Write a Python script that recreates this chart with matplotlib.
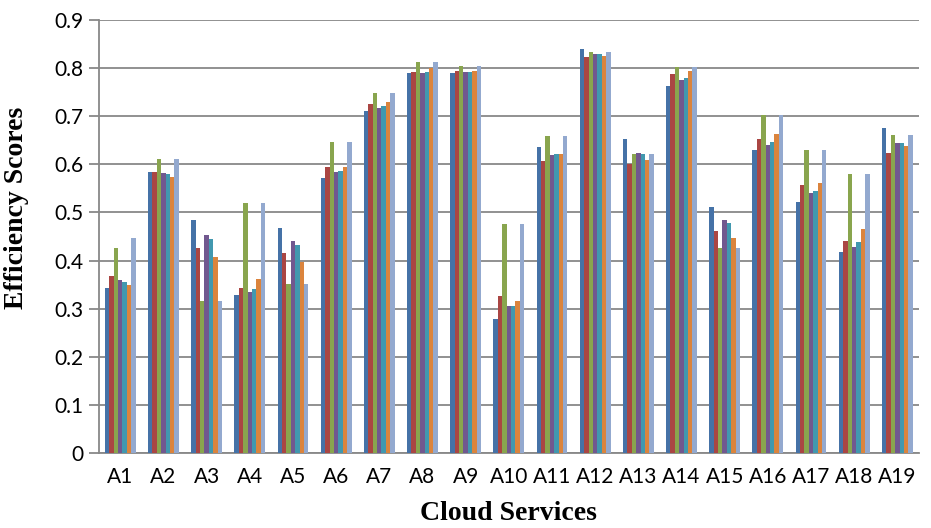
import numpy as np
import matplotlib.pyplot as plt

services = ['A%d' % i for i in range(1, 20)]

s1 = [0.344, 0.585, 0.484, 0.328, 0.467, 0.572, 0.711, 0.789, 0.791, 0.278,
      0.636, 0.839, 0.653, 0.763, 0.511, 0.629, 0.522, 0.418, 0.675]
s2 = [0.368, 0.585, 0.426, 0.343, 0.415, 0.594, 0.725, 0.792, 0.794, 0.327,
      0.608, 0.823, 0.601, 0.787, 0.461, 0.653, 0.557, 0.441, 0.623]
s3 = [0.427, 0.611, 0.317, 0.520, 0.351, 0.646, 0.749, 0.812, 0.805, 0.476,
      0.659, 0.834, 0.622, 0.803, 0.427, 0.702, 0.629, 0.579, 0.662]
s4 = [0.360, 0.583, 0.454, 0.335, 0.440, 0.585, 0.718, 0.790, 0.792, 0.306,
      0.620, 0.829, 0.623, 0.775, 0.484, 0.641, 0.541, 0.429, 0.644]
s5 = [0.355, 0.581, 0.444, 0.341, 0.432, 0.586, 0.721, 0.793, 0.792, 0.306,
      0.622, 0.829, 0.622, 0.779, 0.478, 0.647, 0.545, 0.438, 0.644]
s6 = [0.349, 0.574, 0.407, 0.362, 0.398, 0.595, 0.729, 0.801, 0.794, 0.316,
      0.622, 0.826, 0.609, 0.794, 0.447, 0.664, 0.561, 0.466, 0.639]
s7 = [0.446, 0.611, 0.317, 0.520, 0.351, 0.646, 0.749, 0.812, 0.805, 0.476,
      0.659, 0.834, 0.622, 0.803, 0.427, 0.702, 0.629, 0.579, 0.662]

series = [s1, s2, s3, s4, s5, s6, s7]
colors = ['#4572A7', '#AA4643', '#89A54E', '#71588F', '#4198AF', '#DB843D', '#93A9CF']

fig = plt.figure(figsize=(9.31, 5.28), dpi=100)
ax = fig.add_axes([0.106, 0.142, 0.881, 0.820])

x = np.arange(len(services))
w = 0.102
for k, (vals, c) in enumerate(zip(series, colors)):
    ax.bar(x + (k - 3) * w, vals, width=w, color=c, zorder=3, linewidth=0)

ax.set_xlim(-0.5, len(services) - 0.5)
ax.set_ylim(0, 0.9)
ax.set_yticks(np.arange(0, 0.91, 0.1))
ax.set_yticklabels(['0'] + ['%.1f' % v for v in np.arange(0.1, 0.91, 0.1)])
ax.set_xticks(x)
ax.set_xticklabels(services)

ax.grid(axis='y', color='#888888', linewidth=1.3, zorder=0)
for side in ['top', 'right']:
    ax.spines[side].set_visible(False)
ax.spines['left'].set_color('#888888')
ax.spines['bottom'].set_color('#888888')
ax.spines['left'].set_linewidth(1.3)
ax.spines['bottom'].set_linewidth(1.3)
ax.tick_params(axis='y', length=7, width=1.3, color='#888888', pad=4)
ax.tick_params(axis='x', length=0, pad=10)
for lab in ax.get_xticklabels() + ax.get_yticklabels():
    lab.set_fontfamily('Lato')
    lab.set_fontsize(15)

ax.set_xlabel('Cloud Services', fontfamily='Liberation Serif', fontweight='bold',
              fontsize=20, labelpad=10)
ax.set_ylabel('Efficiency Scores', fontfamily='Liberation Serif', fontweight='bold',
              fontsize=20)
ax.yaxis.set_label_coords(-0.085, 0.566)

fig.savefig('out.png', dpi=100)
